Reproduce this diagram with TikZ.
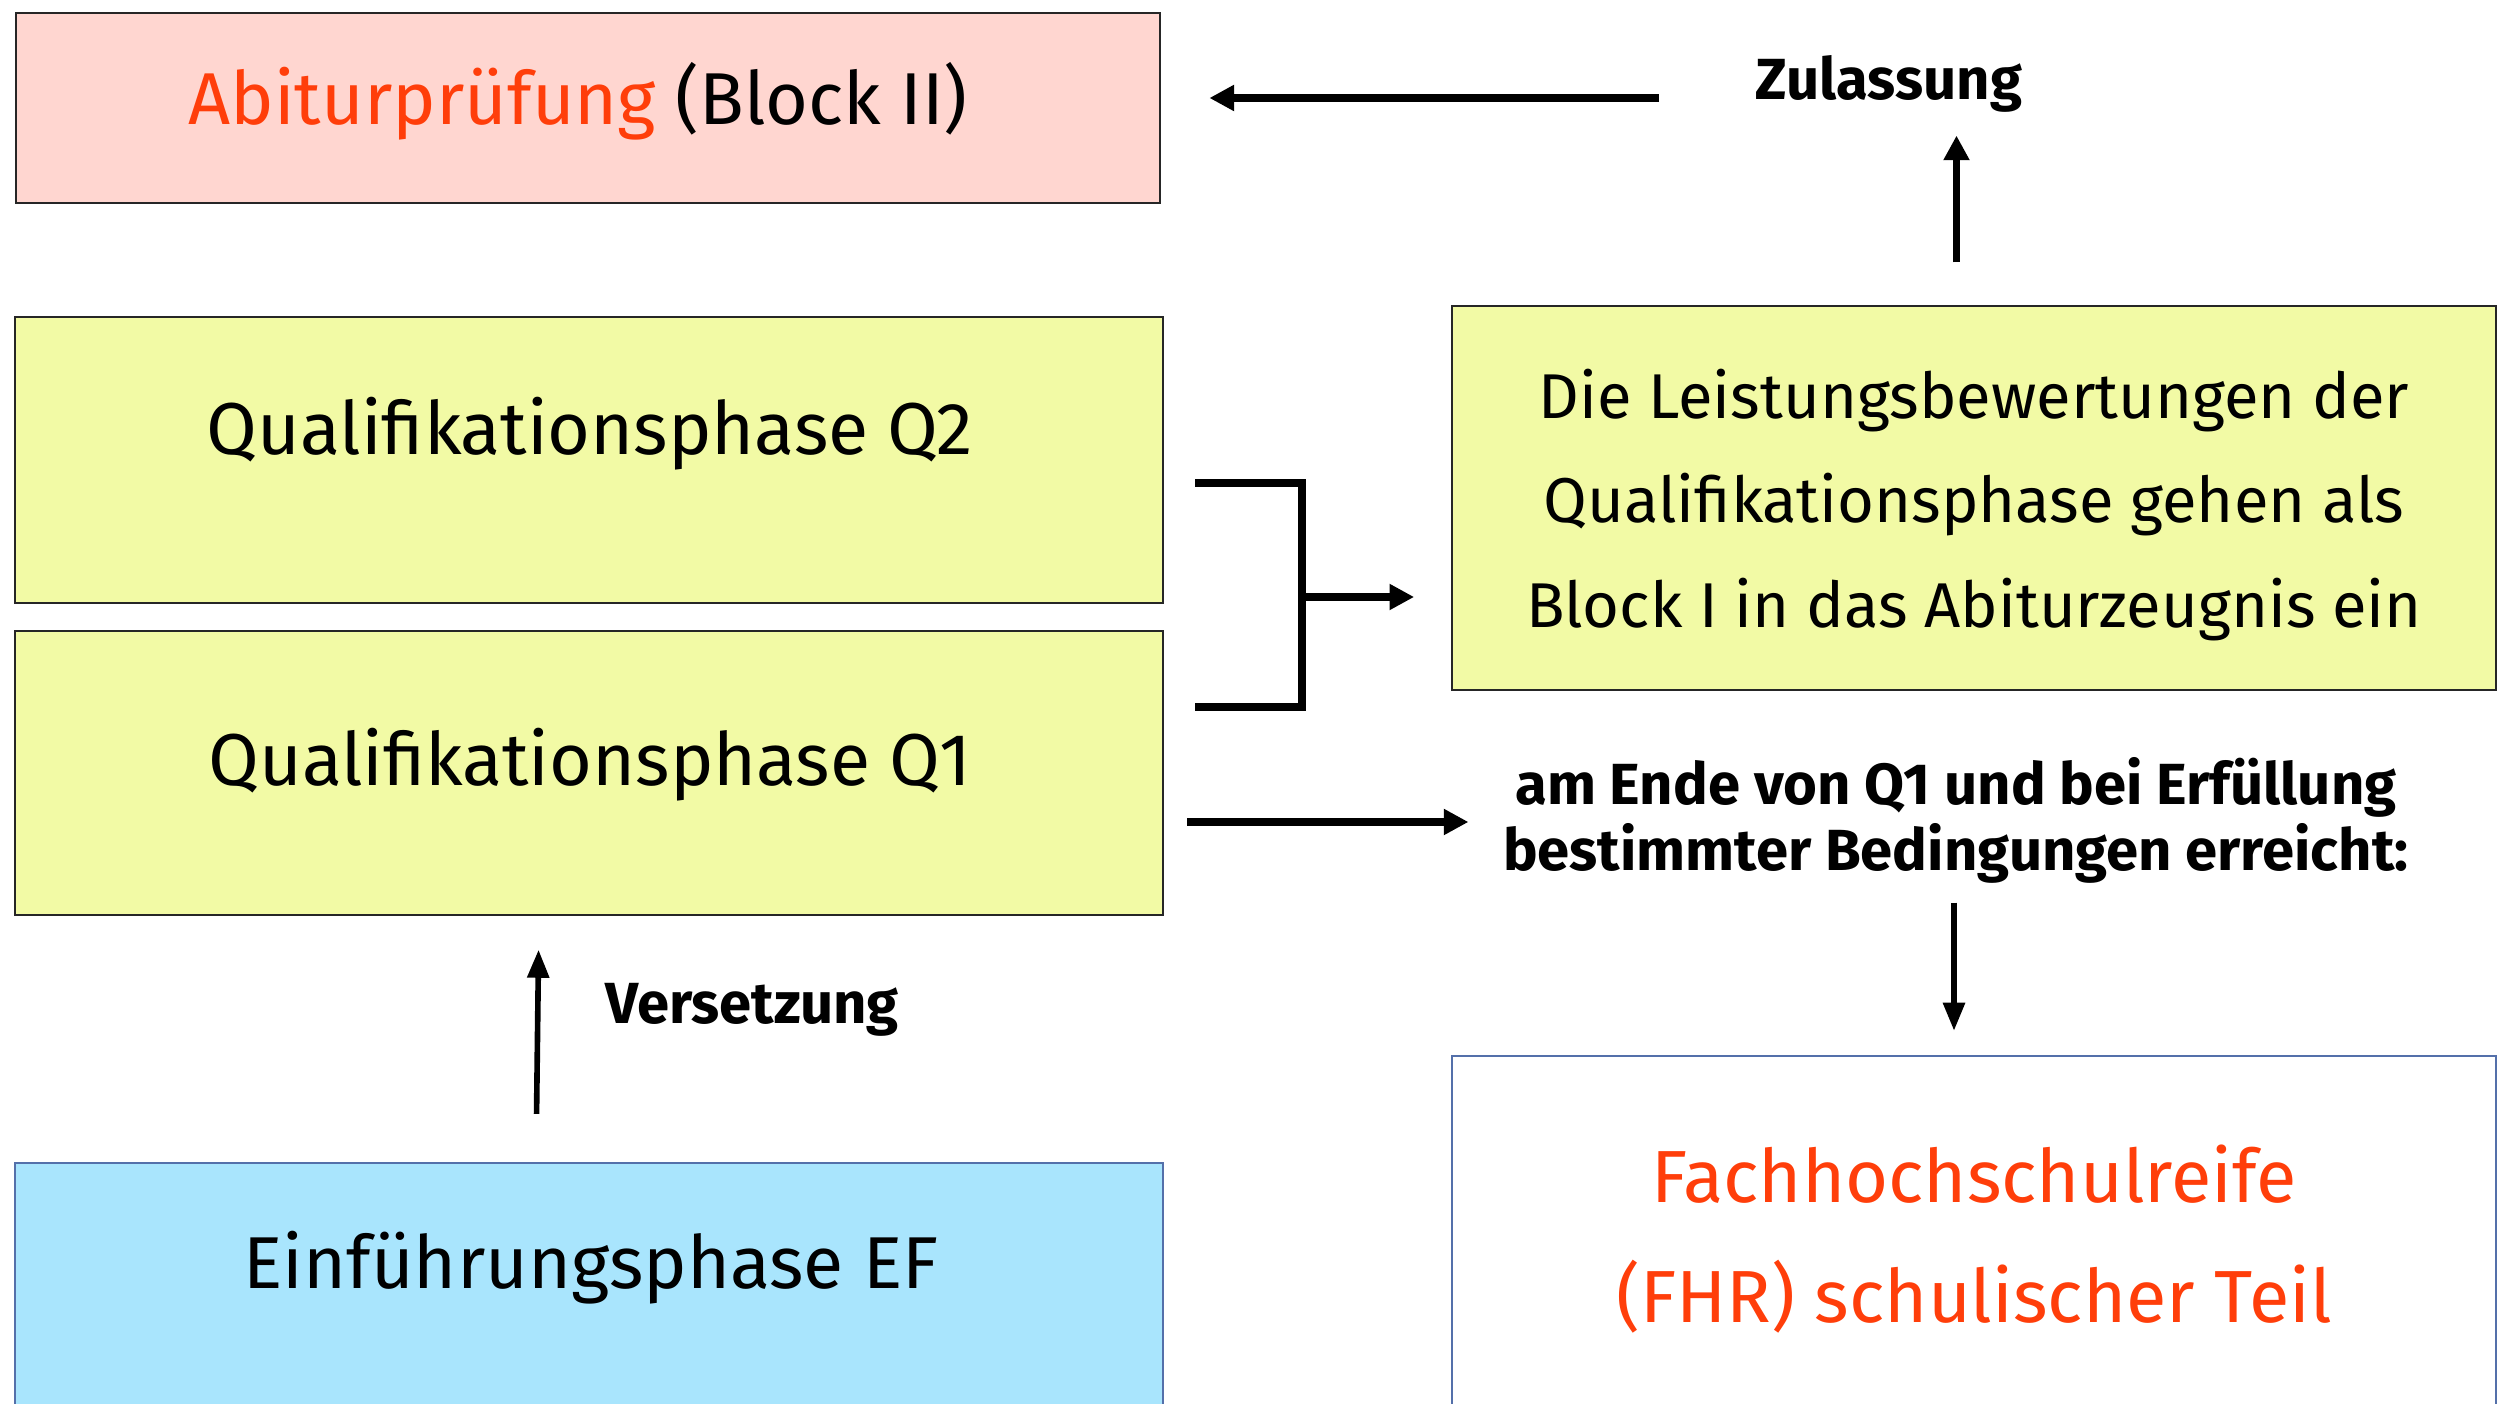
\documentclass[tikz,border=0pt]{standalone}
\usepackage{fontspec}
\setmainfont{Fira Sans}
\usetikzlibrary{arrows.meta}

\definecolor{abiturpink}{RGB}{255,214,208}
\definecolor{phaseyellow}{RGB}{242,250,165}
\definecolor{efblue}{RGB}{169,229,253}
\definecolor{fhrred}{RGB}{255,62,10}
\definecolor{boxblue}{RGB}{84,112,170}

\begin{document}
\begin{tikzpicture}[x=0.01cm, y=-0.01cm]

\tikzset{PhaseBox/.style={rectangle, draw=black!85, line width=0.6pt, inner sep=0pt},
         BigText/.style={inner sep=0pt, font=\fontsize{20.9}{25}\selectfont},
         ArrowTag/.style={inner sep=0pt, font=\fontsize{16.5}{18.8}\selectfont\bfseries, align=center}}

\clip (0,0) rectangle (2509,1404);

\begin{scope}[every node/.style={PhaseBox}]
    % Left column - phases
    \node (abitur) at (588,108) [fill=abiturpink, minimum width=11.44cm, minimum height=1.90cm] {};
    \node (q2) at (589,460) [fill=phaseyellow, minimum width=11.47cm, minimum height=2.86cm] {};
    \node (q1) at (589,773) [fill=phaseyellow, minimum width=11.47cm, minimum height=2.83cm] {};
    \node (ef) at (589,1313) [fill=efblue, draw=boxblue, minimum width=11.47cm, minimum height=3.0cm] {};

    % Right column
    \node (leistung) at (1974,498) [fill=phaseyellow, minimum width=10.43cm, minimum height=3.83cm] {};
    \node (fhr) at (1974,1256) [fill=white, draw=boxblue, minimum width=10.43cm, minimum height=4.0cm] {};
\end{scope}

\node (abiturtext) at (578,125) [BigText, anchor=base] {\textcolor{fhrred}{Abiturprüfung} (Block II)};
\node (q2text) at (590,455) [BigText, anchor=base] {Qualifikationsphase Q2};
\node (q1text) at (590,786) [BigText, anchor=base] {Qualifikationsphase Q1};
\node (eftext) at (591,1288) [BigText, anchor=base] {Einführungsphase EF};
\node (leistungtext) at (1974,505) [BigText, align=center, font=\fontsize{18}{29.7}\selectfont]
    {Die Leistungsbewertungen der\\Qualifikationsphase gehen als\\Block I in das Abiturzeugnis ein};
\node (fhrtext) at (1974,1239) [BigText, align=center, text=fhrred, font=\fontsize{21}{34.2}\selectfont]
    {Fachhochschulreife\\(FHR) schulischer Teil};

\node (zulassung) at (1889,100) [ArrowTag, anchor=base] {Zulassung};
\node (versetzung) at (752,1024) [ArrowTag, anchor=base] {Versetzung};
\node (cond) at (1956,820) [ArrowTag]
    {am Ende von Q1 und bei Erfüllung\\bestimmter Bedingungen erreicht:};

% free ends of the bracket
\coordinate (q2tap) at (1195,483);
\coordinate (q1tap) at (1195,707);
\coordinate (join) at (1302,597);
\coordinate (q1out) at (1187,822);
\coordinate (zulstart) at (1659,98);

\begin{scope}[>={Triangle[length=7pt, width=7pt]}, line width=2pt]
    \draw [->, shorten >=0.48cm] (zulstart) -- (zulstart -| abitur.east);
    \draw [->, shorten <=0.43cm, shorten >=0.22cm]
        ([xshift=-0.175cm]leistung.north) -- ([xshift=-0.175cm]leistung.north |- zulassung.south);

    \draw [line width=2.2pt] (q2tap) -| (join) |- (q1tap);
    \draw [->, shorten >=0.37cm] (join) -- (join -| leistung.west);

    \draw [->, shorten >=0.34cm] (q1out) -- (q1out -| cond.west);
\end{scope}

\begin{scope}[>={Triangle[length=8pt, width=6pt]}, line width=1.6pt]
    \draw [->, shorten <=0.19cm, shorten >=0.24cm] ([xshift=-0.02cm]cond.south) -- ([xshift=-0.02cm]cond.south |- fhr.north);
    \draw [->, shorten <=0.48cm, shorten >=0.34cm] ([xshift=-0.53cm]ef.north) -- ([xshift=-0.50cm]q1.south);
\end{scope}

\end{tikzpicture}
\end{document}
